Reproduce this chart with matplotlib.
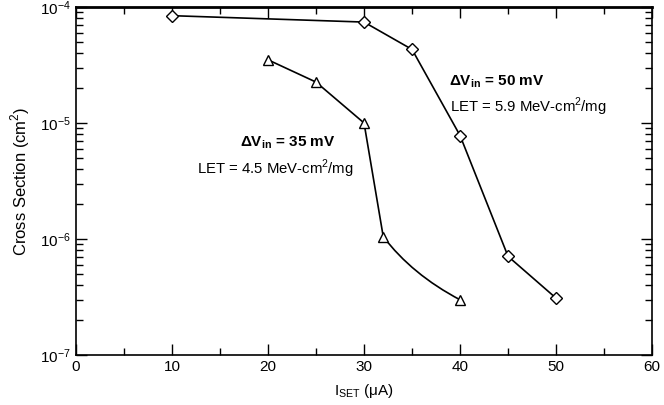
import matplotlib
matplotlib.use('Agg')
import matplotlib.pyplot as plt
import numpy as np
from matplotlib.path import Path
from matplotlib.patches import PathPatch
from matplotlib.ticker import MultipleLocator, LogLocator, NullFormatter

plt.rcParams['font.family'] = ['Liberation Sans', 'DejaVu Sans']
plt.rcParams['mathtext.fontset'] = 'custom'
plt.rcParams['mathtext.rm'] = 'Liberation Sans'
plt.rcParams['mathtext.bf'] = 'Liberation Sans:bold'

# data
iset_50 = [10, 30, 35, 40, 45, 50]
xs_50 = [8.4e-5, 7.4e-5, 4.3e-5, 7.8e-6, 7.1e-7, 3.1e-7]
iset_35 = [20, 25, 30, 32, 40]
xs_35 = [3.5e-5, 2.25e-5, 1.0e-5, 1.05e-6, 3.0e-7]

fig = plt.figure(figsize=(6.64, 4.05), dpi=100)
ax = fig.add_axes([0.1145, 0.123, 0.8675, 0.86])

# 50 mV series, straight segments
ax.plot(iset_50, xs_50, color='black', lw=1.2, marker='D', markersize=6.5,
        markerfacecolor='white', markeredgecolor='black', markeredgewidth=1, zorder=3)

# 35 mV series: straight up to the 4th point, smooth tail after that
ax.plot(iset_35[:4], xs_35[:4], color='black', lw=1.2, zorder=2)
x1, x2 = iset_35[3], iset_35[4]
y1, y2 = xs_35[3], xs_35[4]
ctrl = (x1 + (x2 - x1) * 0.375, y2 * (y1 / y2) ** 0.4)
tail = Path([(x1, y1), ctrl, (x2, y2)], [Path.MOVETO, Path.CURVE3, Path.CURVE3])
ax.add_patch(PathPatch(tail, facecolor='none', edgecolor='black', lw=1.2, zorder=2))
ax.plot(iset_35, xs_35, ls='none', marker='^', markersize=7,
        markerfacecolor='white', markeredgecolor='black', markeredgewidth=1, zorder=3)

ax.set_yscale('log')
ax.set_xlim(0, 60)
ax.set_ylim(1e-7, 1e-4)
ax.xaxis.set_major_locator(MultipleLocator(10))
ax.xaxis.set_minor_locator(MultipleLocator(5))
ax.yaxis.set_major_locator(LogLocator(base=10, numticks=10))
ax.yaxis.set_minor_locator(LogLocator(base=10, subs=np.arange(2, 10), numticks=10))
ax.yaxis.set_minor_formatter(NullFormatter())
ax.tick_params(which='both', direction='in', top=True, right=True, labelsize=11)
ax.tick_params(which='major', length=8, width=1)
ax.tick_params(which='minor', length=5, width=1)
for s in ax.spines.values():
    s.set_linewidth(1.2)
ax.spines['top'].set_linewidth(2)

ax.set_xlabel(r'I$_{\mathrm{SET}}$ ($\mathrm{\mu}$A)', fontsize=11, labelpad=6)
ax.set_ylabel(r'Cross Section (cm$^{2}$)', fontsize=12, labelpad=6)

ax.text(17.1, 6.8e-6, r'$\mathbf{\Delta V_{in}}$ = 35 mV', fontsize=11,
        fontweight='bold', va='center')
ax.text(12.6, 4.0e-6, r'LET = 4.5 MeV-cm$^{2}$/mg', fontsize=10.7, va='center')
ax.text(38.85, 2.25e-5, r'$\mathbf{\Delta V_{in}}$ = 50 mV', fontsize=11,
        fontweight='bold', va='center')
ax.text(38.95, 1.38e-5, r'LET = 5.9 MeV-cm$^{2}$/mg', fontsize=10.7, va='center')

fig.savefig('out.png', dpi=100)
